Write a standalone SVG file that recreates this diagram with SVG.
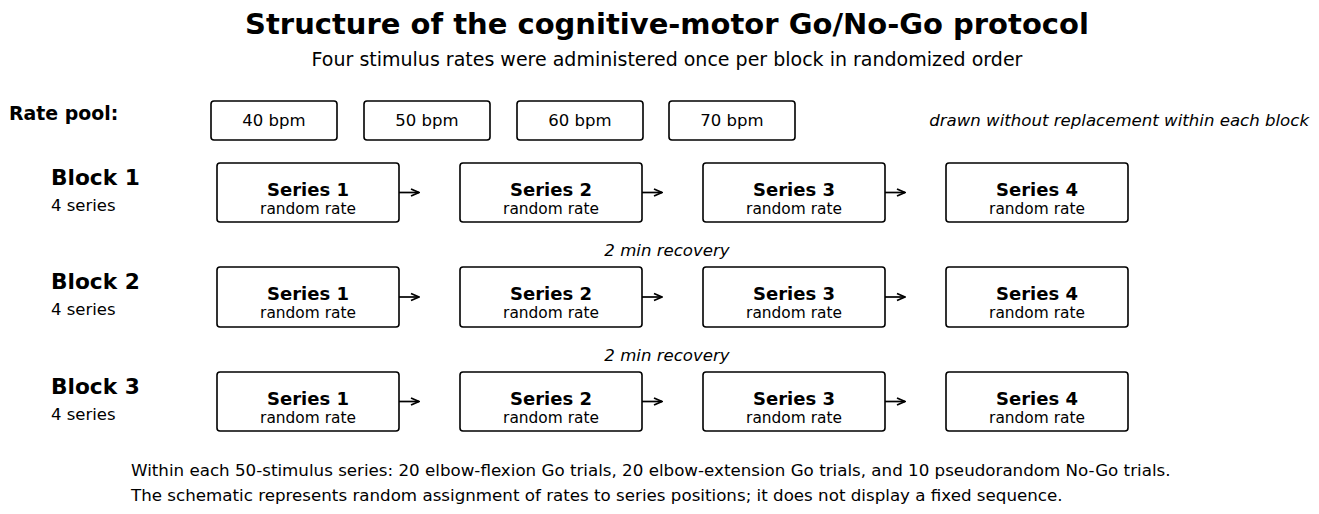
<svg xmlns="http://www.w3.org/2000/svg" width="1319" height="514" viewBox="0 0 1319 514">
<style>
text{font-family:"DejaVu Sans",sans-serif;fill:#000}
.title{font-size:29px;font-weight:bold;text-anchor:middle}
.sub{font-size:19px;text-anchor:middle}
.lab{font-size:18.9px;font-weight:bold}
.blk{font-size:21.7px;font-weight:bold}
.sm{font-size:16.5px}
.ft{font-size:16.7px}
.rr{font-size:15.4px}
.it{font-size:16.6px;font-style:italic}
.c{text-anchor:middle}
.b{font-weight:bold;font-size:18px}
.box{fill:#fff;stroke:#000;stroke-width:1.6}
.arr{stroke:#000;stroke-width:1.7;fill:none}
</style>
<defs>
<marker id="ah" viewBox="0 0 10 10" refX="9" refY="5" markerWidth="10" markerHeight="10" markerUnits="userSpaceOnUse" orient="auto">
<path d="M1,1.5 L9,5 L1,8.5" fill="none" stroke="#000" stroke-width="1.8"/>
</marker>
</defs>
<text class="title" x="667" y="34">Structure of the cognitive-motor Go/No-Go protocol</text>
<text class="sub" x="667" y="66">Four stimulus rates were administered once per block in randomized order</text>
<text class="lab" x="9" y="120">Rate pool:</text>
<g id="rate40"><rect class="box" x="211" y="101" width="126" height="39" rx="3"/><text class="sm c" x="274" y="126">40 bpm</text></g>
<g id="rate50"><rect class="box" x="364" y="101" width="126" height="39" rx="3"/><text class="sm c" x="427" y="126">50 bpm</text></g>
<g id="rate60"><rect class="box" x="517" y="101" width="126" height="39" rx="3"/><text class="sm c" x="580" y="126">60 bpm</text></g>
<g id="rate70"><rect class="box" x="669" y="101" width="126" height="39" rx="3"/><text class="sm c" x="732" y="126">70 bpm</text></g>
<text class="it" x="1309" y="126" text-anchor="end">drawn without replacement within each block</text>

<g id="block1label"><text class="blk" x="51" y="185">Block 1</text><text class="sm" x="51" y="211">4 series</text></g>
<g id="block2label"><text class="blk" x="51" y="289">Block 2</text><text class="sm" x="51" y="315">4 series</text></g>
<g id="block3label"><text class="blk" x="51" y="394">Block 3</text><text class="sm" x="51" y="420">4 series</text></g>

<g id="b1s1"><rect class="box" x="217" y="163" width="182" height="59" rx="3"/><text class="b c" x="308" y="196">Series 1</text><text class="rr c" x="308" y="214">random rate</text></g>
<g id="b1s2"><rect class="box" x="460" y="163" width="182" height="59" rx="3"/><text class="b c" x="551" y="196">Series 2</text><text class="rr c" x="551" y="214">random rate</text></g>
<g id="b1s3"><rect class="box" x="703" y="163" width="182" height="59" rx="3"/><text class="b c" x="794" y="196">Series 3</text><text class="rr c" x="794" y="214">random rate</text></g>
<g id="b1s4"><rect class="box" x="946" y="163" width="182" height="59" rx="3"/><text class="b c" x="1037" y="196">Series 4</text><text class="rr c" x="1037" y="214">random rate</text></g>

<g id="b2s1"><rect class="box" x="217" y="267" width="182" height="60" rx="3"/><text class="b c" x="308" y="300">Series 1</text><text class="rr c" x="308" y="318">random rate</text></g>
<g id="b2s2"><rect class="box" x="460" y="267" width="182" height="60" rx="3"/><text class="b c" x="551" y="300">Series 2</text><text class="rr c" x="551" y="318">random rate</text></g>
<g id="b2s3"><rect class="box" x="703" y="267" width="182" height="60" rx="3"/><text class="b c" x="794" y="300">Series 3</text><text class="rr c" x="794" y="318">random rate</text></g>
<g id="b2s4"><rect class="box" x="946" y="267" width="182" height="60" rx="3"/><text class="b c" x="1037" y="300">Series 4</text><text class="rr c" x="1037" y="318">random rate</text></g>

<g id="b3s1"><rect class="box" x="217" y="372" width="182" height="59" rx="3"/><text class="b c" x="308" y="405">Series 1</text><text class="rr c" x="308" y="423">random rate</text></g>
<g id="b3s2"><rect class="box" x="460" y="372" width="182" height="59" rx="3"/><text class="b c" x="551" y="405">Series 2</text><text class="rr c" x="551" y="423">random rate</text></g>
<g id="b3s3"><rect class="box" x="703" y="372" width="182" height="59" rx="3"/><text class="b c" x="794" y="405">Series 3</text><text class="rr c" x="794" y="423">random rate</text></g>
<g id="b3s4"><rect class="box" x="946" y="372" width="182" height="59" rx="3"/><text class="b c" x="1037" y="405">Series 4</text><text class="rr c" x="1037" y="423">random rate</text></g>

<g id="connectors">
<line class="arr" x1="399" y1="192.5" x2="419" y2="192.5" marker-end="url(#ah)"/>
<line class="arr" x1="642" y1="192.5" x2="662" y2="192.5" marker-end="url(#ah)"/>
<line class="arr" x1="885" y1="192.5" x2="905" y2="192.5" marker-end="url(#ah)"/>
<line class="arr" x1="399" y1="297" x2="419" y2="297" marker-end="url(#ah)"/>
<line class="arr" x1="642" y1="297" x2="662" y2="297" marker-end="url(#ah)"/>
<line class="arr" x1="885" y1="297" x2="905" y2="297" marker-end="url(#ah)"/>
<line class="arr" x1="399" y1="401.5" x2="419" y2="401.5" marker-end="url(#ah)"/>
<line class="arr" x1="642" y1="401.5" x2="662" y2="401.5" marker-end="url(#ah)"/>
<line class="arr" x1="885" y1="401.5" x2="905" y2="401.5" marker-end="url(#ah)"/>
</g>

<text class="it c" x="667" y="256">2 min recovery</text>
<text class="it c" x="667" y="361">2 min recovery</text>

<text class="ft" x="131" y="476">Within each 50-stimulus series: 20 elbow-flexion Go trials, 20 elbow-extension Go trials, and 10 pseudorandom No-Go trials.</text>
<text class="ft" x="131" y="501">The schematic represents random assignment of rates to series positions; it does not display a fixed sequence.</text>
</svg>
